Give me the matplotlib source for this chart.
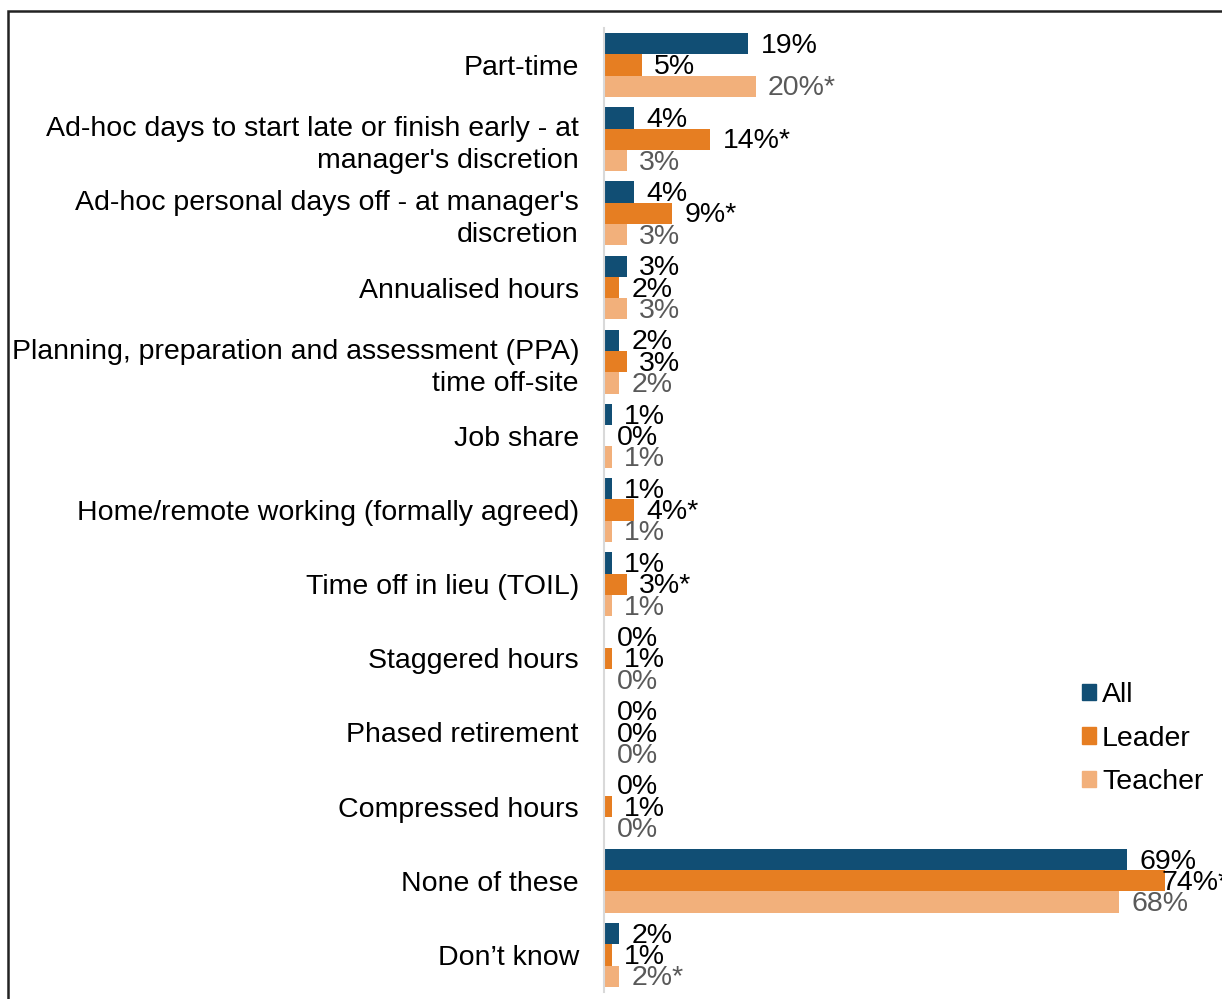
import matplotlib.pyplot as plt
import numpy as np
from matplotlib.patches import Patch, Rectangle

plt.rcParams['font.family'] = ['Liberation Sans', 'DejaVu Sans']

categories = ['Part-time',
              'Ad-hoc days to start late or finish early - at\nmanager\'s discretion',
              'Ad-hoc personal days off - at manager\'s\ndiscretion',
              'Annualised hours',
              'Planning, preparation and assessment (PPA)\ntime off-site',
              'Job share',
              'Home/remote working (formally agreed)',
              'Time off in lieu (TOIL)',
              'Staggered hours',
              'Phased retirement',
              'Compressed hours',
              'None of these',
              'Don\u2019t know']

all_vals = [19, 4, 4, 3, 2, 1, 1, 1, 0, 0, 0, 69, 2]
leader_vals = [5, 14, 9, 2, 3, 0, 4, 3, 1, 0, 1, 74, 1]
teacher_vals = [20, 3, 3, 3, 2, 1, 1, 1, 0, 0, 0, 68, 2]

# significance markers
leader_sig = [0, 1, 1, 0, 0, 0, 1, 1, 0, 0, 0, 1, 0]
teacher_sig = [1, 0, 0, 0, 0, 0, 0, 0, 0, 0, 0, 0, 1]

series = ['All', 'Leader', 'Teacher']
colors = ['#114E74', '#E67E22', '#F2B07B']
label_colors = ['black', 'black', '#595959']

fig = plt.figure(figsize=(12.22, 9.99), dpi=100)
ax = fig.add_axes([604/1222, 1-992/999, 606/1222, (992-28)/999])

y = np.arange(len(categories))
h = 0.287
data = [all_vals, leader_vals, teacher_vals]
sigs = [[0]*len(categories), leader_sig, teacher_sig]

for k in range(3):
    pos = y + (k-1)*h
    ax.barh(pos, data[k], height=h, color=colors[k], label=series[k])
    for i in range(len(categories)):
        txt = '%d%%' % data[k][i]
        if sigs[k][i]:
            txt += '*'
        # labels near the right edge get pulled back onto the bar end
        dx = 9 if data[k][i] < 72 else -2
        ax.annotate(txt, (data[k][i], pos[i]), xytext=(dx, -1.5),
                    textcoords='offset points', va='center', ha='left',
                    fontsize=20.5, color=label_colors[k])

ax.set_xlim(0, 80)
ax.set_ylim(len(categories)-0.5, -0.5)
ax.set_yticks(y)
ax.set_yticklabels(categories, fontsize=20.5, linespacing=1.3)
ax.tick_params(axis='y', length=0, pad=18)
ax.set_xticks([])
for s in ['top', 'right', 'bottom']:
    ax.spines[s].set_visible(False)
ax.spines['left'].set_color('#D9D9D9')
ax.spines['left'].set_linewidth(1.5)

handles = [Patch(color=c) for c in colors]
fig.legend(handles, series, loc='upper left',
           bbox_to_anchor=(1082/1222, 1-682/999), frameon=False,
           fontsize=20.5, handlelength=0.5, handleheight=0.5,
           handletextpad=0.2, labelspacing=0.62, borderpad=0,
           borderaxespad=0)

# outer frame
fig.patches.append(Rectangle((8/1222, -0.2), 1.2, 1.2-11/999,
                             transform=fig.transFigure, fill=False,
                             edgecolor='#222222', linewidth=1.8))

plt.savefig('out.png', dpi=100)
